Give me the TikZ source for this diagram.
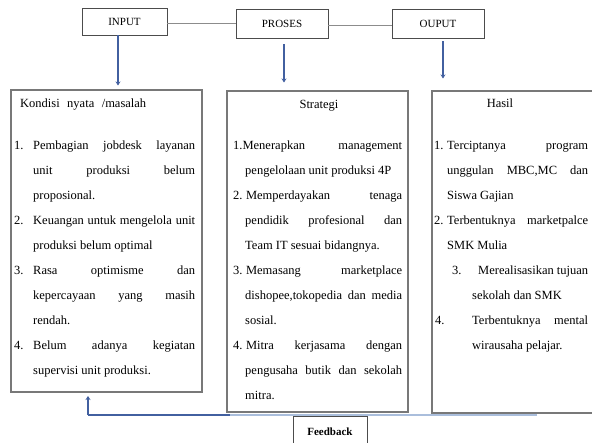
\documentclass[tikz,border=0pt]{standalone}
\usepackage{fontspec}
\setmainfont{Liberation Serif}
\usetikzlibrary{arrows.meta}
\newcommand{\J}[2]{\makebox[#1pt][s]{#2}}
\definecolor{arrblue}{RGB}{66,96,160}
\definecolor{fblight}{RGB}{170,190,220}
\definecolor{frm}{RGB}{120,120,120}
\begin{document}
\begin{tikzpicture}[x=1pt,y=-1pt,
  bigbox/.style={draw=frm, line width=1.1pt, inner sep=0pt},
  topbox/.style={draw=black!70, line width=0.8pt, inner sep=0pt, font=\fontsize{11}{13}\selectfont},
  tl/.style={anchor=base west, inner sep=0pt, font=\fontsize{12.5}{15}\selectfont},
  tc/.style={anchor=base, inner sep=0pt, font=\fontsize{12.5}{15}\selectfont},
  arr/.style={draw=arrblue, line width=2pt, -{Stealth[length=4pt,width=5pt]}},
  link/.style={draw=black!45, line width=0.8pt}]
\useasboundingbox (0,0) rectangle (592,442);
\fill[white] (0,0) rectangle (592,442);

% top boxes
\node[topbox, minimum width=85pt, minimum height=27pt] (input) at (124.5,21.5) {INPUT};
\node[topbox, minimum width=92pt, minimum height=29pt] (proses) at (282,23.5) {PROSES};
\node[topbox, minimum width=92pt, minimum height=29pt] (ouput) at (438,23.5) {OUPUT};
\draw[link] (proses.west) -- (proses.west -| input.east);
\draw[link] ([yshift=-2pt]proses.east) -- ([yshift=-2pt]ouput.west);

% big boxes
\node[bigbox, minimum width=191pt, minimum height=302pt] (cond) at (106.5,241) {};
\node[bigbox, minimum width=181pt, minimum height=321pt] (strat) at (317.5,251.5) {};
\node[bigbox, minimum width=163pt, minimum height=322pt] (hasil) at (513.5,252) {};

% arrows
\draw[arr, shorten >=4pt] ([xshift=-6.5pt]input.south) -- ([xshift=-6.5pt]input.south |- cond.north);
\draw[arr, shorten <=6pt, shorten >=8pt] ([xshift=2pt]proses.south) -- ([xshift=2pt]proses.south |- strat.north);
\draw[arr, shorten <=3pt, shorten >=12pt] ([xshift=5pt]ouput.south) -- ([xshift=5pt]ouput.south |- hasil.north);

% left box text
\node[tl] (k0) at (20,107) {\J{126}{Kondisi nyata /masalah}};
\node[tl] (k1n) at (14,149) {1.};
\node[tl] (k1a) at (33,149) {\J{162}{Pembagian jobdesk layanan}};
\node[tl] (k1b) at (33,174) {\J{162}{unit produksi belum}};
\node[tl] (k1c) at (33,199) {proposional.};
\node[tl] (k2n) at (14,224) {2.};
\node[tl] (k2a) at (33,224) {\J{162}{Keuangan untuk mengelola unit}};
\node[tl] (k2b) at (33,249) {produksi belum optimal};
\node[tl] (k3n) at (14,274) {3.};
\node[tl] (k3a) at (33,274) {\J{162}{Rasa optimisme dan}};
\node[tl] (k3b) at (33,299) {\J{162}{kepercayaan yang masih}};
\node[tl] (k3c) at (33,324) {rendah.};
\node[tl] (k4n) at (14,349) {4.};
\node[tl] (k4a) at (33,349) {\J{162}{Belum adanya kegiatan}};
\node[tl] (k4b) at (33,374) {supervisi unit produksi.};

% middle box text
\node[tc] (s0) at (319,108) {Strategi};
\node[tl] (s1a) at (233,149) {\J{169}{1.Menerapkan management}};
\node[tl] (s1b) at (245,174) {pengelolaan unit produksi 4P};
\node[tl] (s2a) at (233,199) {\J{169}{2.\hspace{3.5pt}Memperdayakan tenaga}};
\node[tl] (s2b) at (245,224) {\J{157}{pendidik profesional dan}};
\node[tl] (s2c) at (245,249) {Team IT sesuai bidangnya.};
\node[tl] (s3a) at (233,274) {\J{169}{3.\hspace{3.5pt}Memasang marketplace}};
\node[tl] (s3b) at (245,299) {\J{157}{dishopee,tokopedia dan media}};
\node[tl] (s3c) at (245,324) {sosial.};
\node[tl] (s4a) at (233,349) {\J{169}{4.\hspace{3.5pt}Mitra kerjasama dengan}};
\node[tl] (s4b) at (245,374) {\J{157}{pengusaha butik dan sekolah}};
\node[tl] (s4c) at (245,399) {mitra.};

% right box text
\node[tc] (h0) at (500,107) {Hasil};
\node[tl] (h1n) at (434,149) {1.};
\node[tl] (h1a) at (447,149) {\J{141}{Terciptanya program}};
\node[tl] (h1b) at (447,174) {\J{141}{unggulan MBC,MC dan}};
\node[tl] (h1c) at (447,199) {Siswa Gajian};
\node[tl] (h2n) at (434,224) {2.};
\node[tl] (h2a) at (447,224) {\J{141}{Terbentuknya marketpalce}};
\node[tl] (h2b) at (447,249) {SMK Mulia};
\node[tl] (h3n) at (452,274) {3.};
\node[tl] (h3a) at (478,274) {\J{110}{Merealisasikan tujuan}};
\node[tl] (h3b) at (472,299) {sekolah dan SMK};
\node[tl] (h4n) at (435,324) {4.};
\node[tl] (h4a) at (472,324) {\J{116}{Terbentuknya mental}};
\node[tl] (h4b) at (472,349) {wirausaha pelajar.};

% feedback
\coordinate (fbL) at (88,415);
\coordinate (fbR) at (537,415);
\coordinate (fbU) at (88,396);
\draw[draw=fblight, line width=1.6pt] (fbR) -- (fbL);
\draw[draw=arrblue, line width=1.6pt] (fbL) -- ++(142,0);
\draw[arr, line width=1.8pt] (fbL) -- (fbU);
\node[draw=black!70, line width=1pt, fill=white, minimum width=74pt, minimum height=32pt, inner sep=0pt, anchor=north, font=\bfseries\fontsize{11}{13}\selectfont] (fb) at (330,416) {};
\node[inner sep=0pt, font=\bfseries\fontsize{11}{13}\selectfont] (fbt) at (330,432) {Feedback};
\end{tikzpicture}
\end{document}
